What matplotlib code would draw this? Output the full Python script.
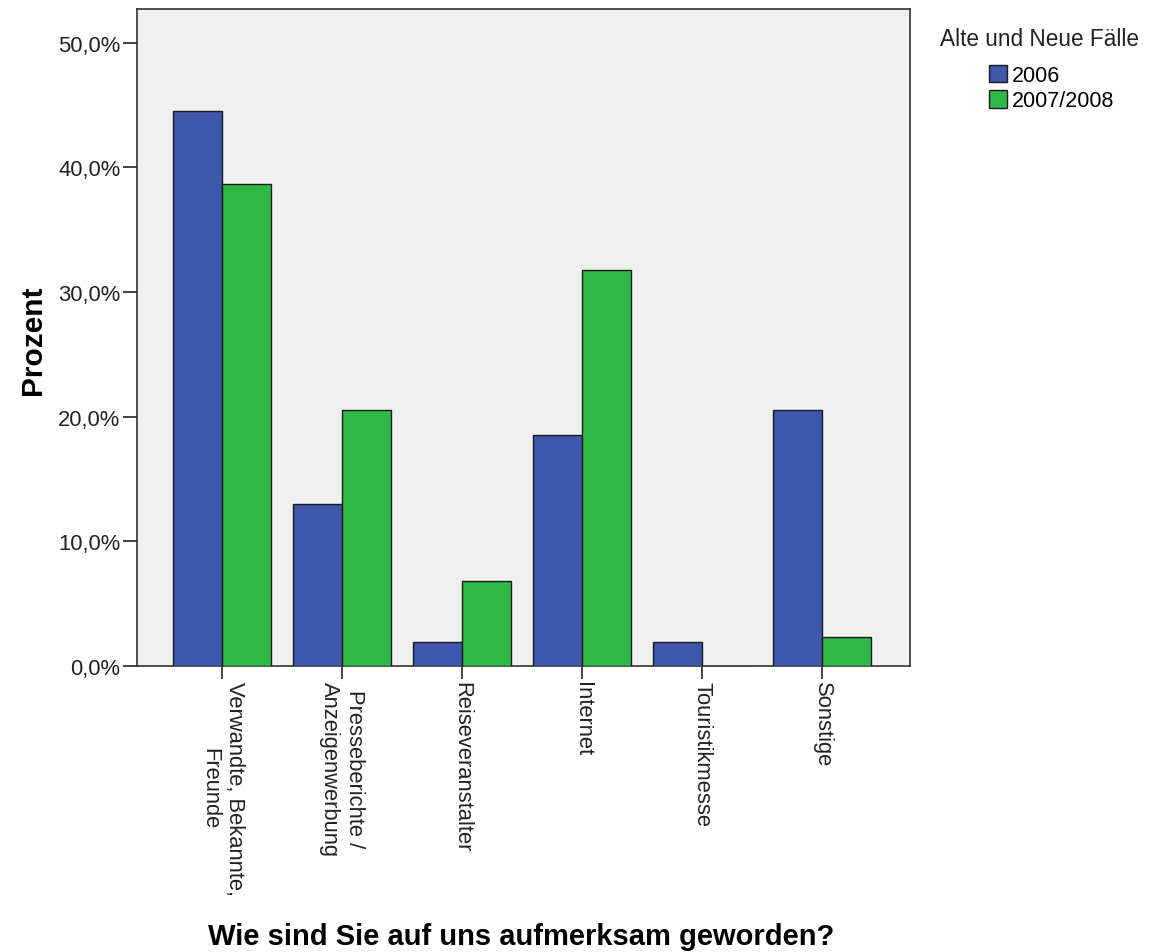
"""Wie sind Sie auf uns aufmerksam geworden? — grouped bars, 2006 vs 2007/2008.

Output -> out.png (1173x953)
"""
import matplotlib
matplotlib.use("Agg")
import matplotlib.pyplot as plt
import numpy as np
from matplotlib.ticker import FuncFormatter

plt.rcParams["font.family"] = ["Liberation Sans", "DejaVu Sans"]

CATEGORIES = ["Verwandte, Bekannte,\nFreunde", "Presseberichte /\nAnzeigenwerbung",
              "Reiseveranstalter", "Internet", "Touristikmesse", "Sonstige"]
SERIES = ["2006", "2007/2008"]
V_2006 = [44.5, 13.0, 1.9, 18.5, 1.9, 20.5]
V_2008 = [38.7, 20.5, 6.8, 31.8, 0.0, 2.3]
YTICKS = [0, 10, 20, 30, 40, 50]

COLORS = ["#3E58AC", "#2EB848"]
BG = "#F0F0F0"
W = 0.41
FW, FH = 1173, 953


def main():
    fig = plt.figure(figsize=(FW / 100, FH / 100), dpi=100)
    ax = fig.add_axes([137 / FW, 1 - 667 / FH, 773 / FW, 657 / FH])
    ax.set_facecolor(BG)

    x = np.arange(len(CATEGORIES))
    for vals, off, col, lab in zip([V_2006, V_2008], [-W / 2, W / 2], COLORS, SERIES):
        ax.bar(x + off, vals, width=W, color=col, edgecolor="#1a1a1a",
               linewidth=1.0, label=lab, zorder=3)

    ax.set_xlim(-0.708, 5.733)
    ax.set_ylim(0, 52.7)
    ax.set_yticks(YTICKS)
    ax.yaxis.set_major_formatter(FuncFormatter(lambda v, _: f"{v:.1f}%".replace(".", ",")))
    ax.set_xticks(x)
    ax.set_xticklabels(CATEGORIES, rotation=-90, ha="center", va="top",
                       fontsize=15.8, color="#222222")
    ax.tick_params(axis="x", length=9.5, width=1.2, pad=1, color="#222222")
    ax.tick_params(axis="y", length=10, width=1.2, pad=2, labelsize=15.8,
                   labelcolor="#222222", color="#222222")
    for s in ax.spines.values():
        s.set_color("#333333")
        s.set_linewidth(1.2)

    ax.set_ylabel("Prozent", fontsize=21.5, fontweight="bold")
    ax.yaxis.set_label_coords(-0.116, 0.498)
    ax.set_xlabel("Wie sind Sie auf uns aufmerksam geworden?", fontsize=21,
                  fontweight="bold")
    ax.xaxis.set_label_coords(0.497, -0.411)
    ax.xaxis.label.set_verticalalignment("center")

    fig.text(940 / FW, 1 - 40 / FH, "Alte und Neue Fälle", fontsize=16.3,
             color="#222222", ha="left", va="center")
    leg = ax.legend(loc="upper left", bbox_to_anchor=(989 / FW, 1 - 66 / FH),
                    bbox_transform=fig.transFigure, frameon=False, fontsize=15.5,
                    handlelength=0.85, handleheight=0.85, handletextpad=0.2,
                    labelspacing=0.2, borderpad=0, borderaxespad=0)
    for h in leg.legend_handles:
        h.set_edgecolor("#1a1a1a")
        h.set_linewidth(1.0)

    fig.savefig("out.png", dpi=100)
    plt.close(fig)


if __name__ == "__main__":
    main()
